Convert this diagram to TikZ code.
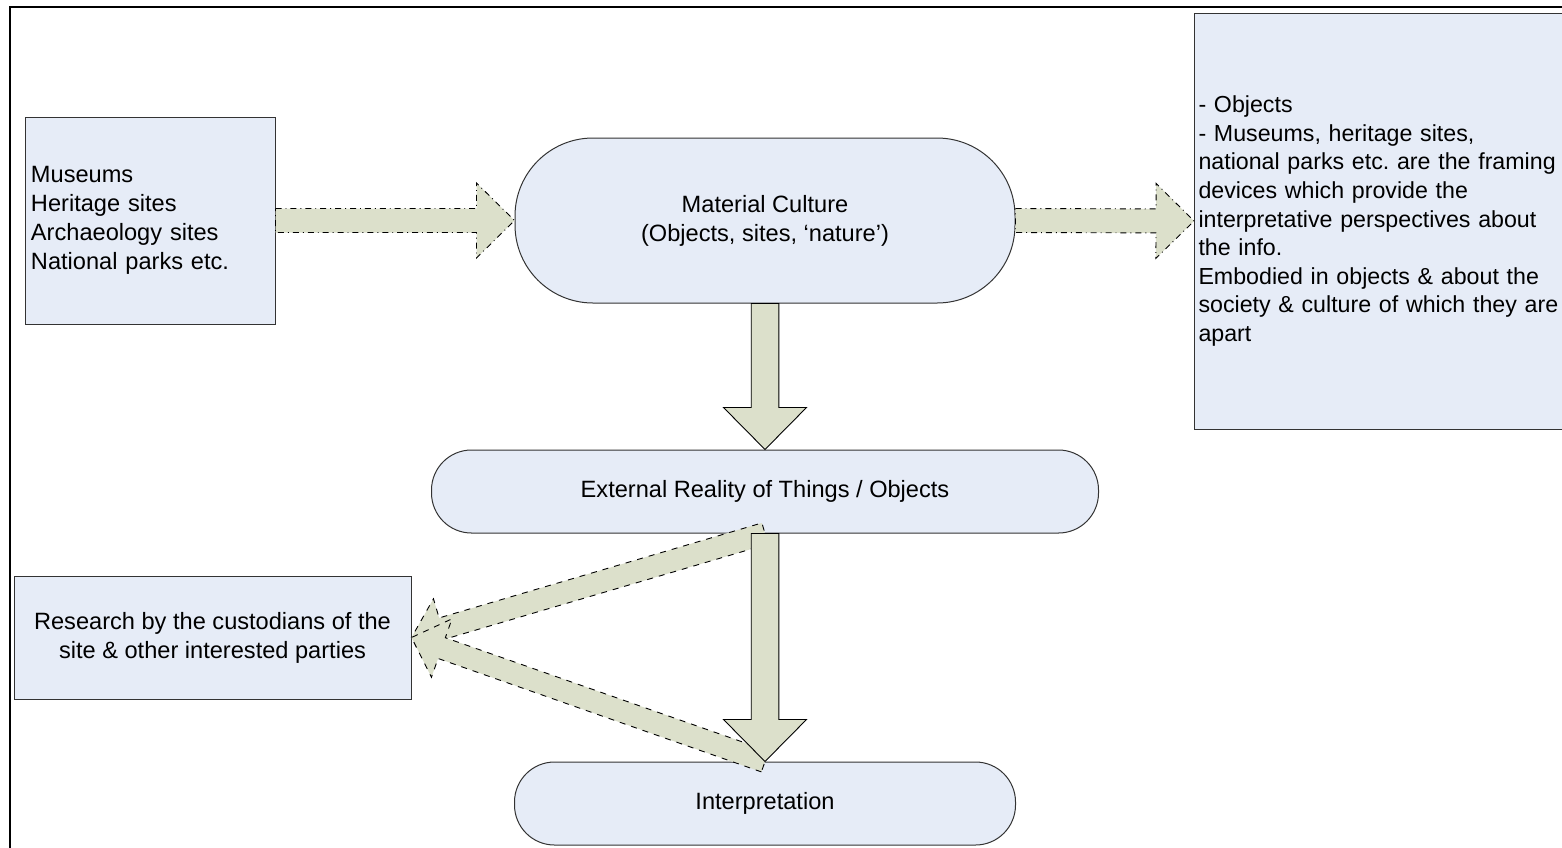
\documentclass[tikz,border=0pt]{standalone}
\usepackage{fontspec}
\setmainfont{Liberation Sans}
\usetikzlibrary{calc}
\definecolor{boxblue}{RGB}{230,236,247}
\definecolor{olive}{RGB}{220,224,203}
\newcommand\txt{\fontsize{11.8pt}{14.4pt}\selectfont}
% fat arrow: style, from, to, shaft half width, head half width, head length
\newcommand\fatarrow[6]{%
  \coordinate (hb) at ($(#3)!#6!(#2)$);
  \draw[#1] ($(#2)!#4!90:(#3)$) -- ($(hb)!#4!90:(#3)$) -- ($(hb)!#5!90:(#3)$) -- (#3)
    -- ($(hb)!#5!-90:(#3)$) -- ($(hb)!#4!-90:(#3)$) -- ($(#2)!#4!-90:(#3)$) -- cycle;}
\tikzset{
  box/.style={draw=black!80,fill=boxblue,line width=0.5pt,font=\txt,inner sep=0pt},
  pill/.style={box,rounded corners=#1},
  fat/.style={draw=black,fill=olive,line width=0.45pt},
}
\begin{document}
\frenchspacing
\begin{tikzpicture}[x=0.5pt,y=-0.5pt]
\useasboundingbox (0,0) rectangle (1562,847);
\clip (0,0) rectangle (1562,847);
\draw[line width=1pt] (1600,7) -- (10,7) -- (10,900);
% boxes
\node[box,minimum width=125pt,minimum height=103.5pt,text width=119pt,align=left] (mus) at (150,220.5)
  {Museums\\Heritage sites\\Archaeology sites\\National parks etc.};
\node[pill=39pt,minimum width=250pt,minimum height=82.5pt,align=center] (mat) at (765,220.5)
  {Material Culture\\(Objects, sites, ‘nature’)};
\node[box,anchor=west,minimum width=190pt,minimum height=208pt,text width=186pt,align=left,
  font=\fontsize{11.6pt}{14.3pt}\selectfont] (info) at (1194,221)
  {- Objects\\- Museums, heritage sites,\\national parks etc. are the framing\\devices which provide the\\interpretative perspectives about\\the info.\\Embodied in objects \& about the\\society \& culture of which they are\\apart};
\node[pill=20pt,minimum width=333.5pt,minimum height=41.5pt] (ext) at (765,491.5) {External Reality of Things / Objects};
\node[pill=20pt,minimum width=250.5pt,minimum height=41.5pt] (interp) at (765,803.5) {Interpretation};
\node[box,minimum width=198.5pt,minimum height=61.5pt,align=center] (res) at (212.5,637.5)
  {Research by the custodians of the\\site \& other interested parties};
% arrows
\fatarrow{fat,dash dot}{mus.east}{mat.west}{6pt}{18.75pt}{19pt}
\fatarrow{fat,dash dot}{mat.east}{info.west}{6pt}{18.75pt}{19pt}
\fatarrow{fat,dashed}{ext.south}{res.east}{5.5pt}{15.5pt}{16pt}
\fatarrow{fat,dashed}{interp.north}{res.east}{5.5pt}{15.5pt}{16pt}
\fatarrow{fat}{mat.south}{ext.north}{6.9pt}{20.75pt}{21pt}
\fatarrow{fat}{ext.south}{interp.north}{6.9pt}{20.75pt}{21pt}
\end{tikzpicture}
\end{document}
